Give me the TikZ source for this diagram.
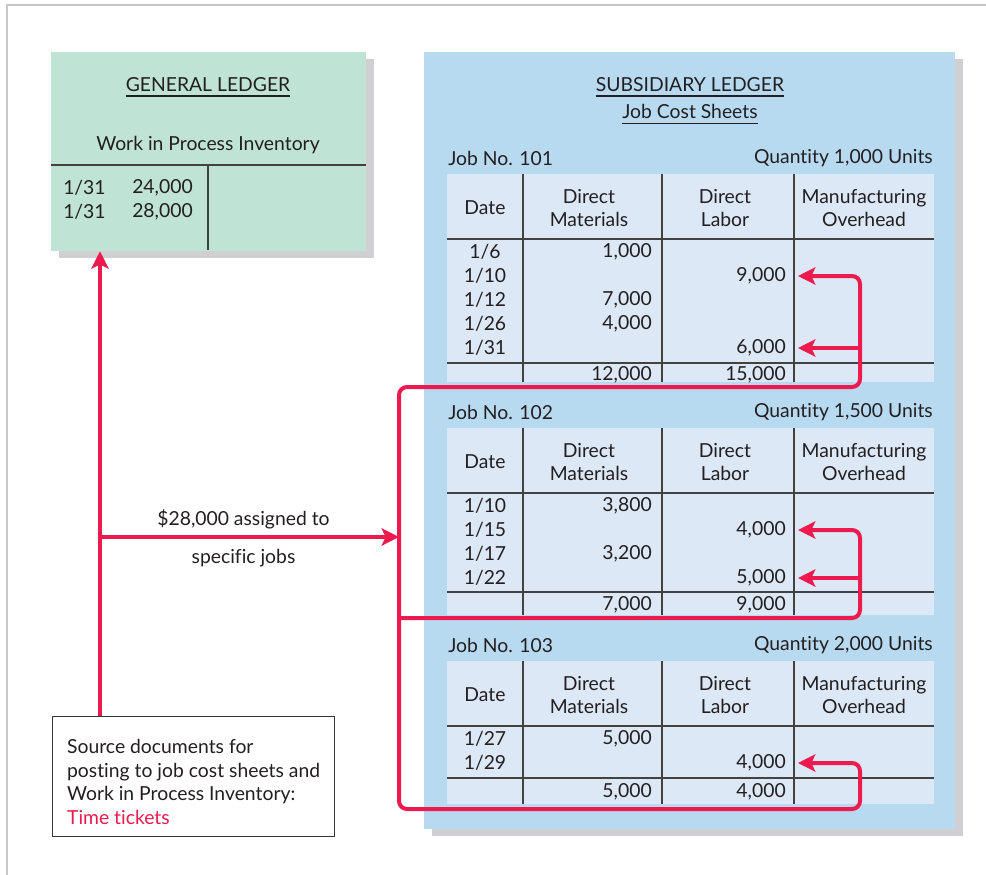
\documentclass[tikz,border=0pt]{standalone}
\usepackage{fontspec}
\setmainfont{Lato}[Ligatures=NoCommon]
\usetikzlibrary{positioning,arrows.meta,fit,shadows}

\definecolor{glgreen}{RGB}{191,227,212}
\definecolor{slblue}{RGB}{184,218,241}
\definecolor{cellblue}{RGB}{220,232,246}
\definecolor{shgray}{RGB}{208,208,210}
\definecolor{postred}{RGB}{236,26,78}
\definecolor{inkgray}{RGB}{35,31,32}
\definecolor{framegray}{RGB}{200,200,202}

% underlined title text
\newcommand{\ulbox}[1]{\leavevmode\setbox0\hbox{#1}\rlap{\vrule height -3pt depth 3.9pt width \wd0}\box0}

\begin{document}
\begin{tikzpicture}[x=0.75pt,y=-0.75pt,
    every node/.style={font=\fontsize{14.5}{17.6}\selectfont,text=inkgray,inner sep=0pt},
    ledger/.style={inner sep=0pt,drop shadow={shadow xshift=6pt,shadow yshift=-5.25pt,fill=shgray,opacity=1}},
    tline/.style={draw=inkgray!85,line width=1.1pt},
    amt/.style={anchor=east},
    hdr/.style={align=center},
    srcbox/.style={draw=inkgray!90,line width=0.9pt,fill=white,minimum width=211.5pt,
                   minimum height=90pt,align=left},
    redline/.style={draw=postred,line width=3pt,rounded corners=6pt},
    redarr/.style={redline,-{Stealth[length=13pt,width=13pt,inset=3pt]}}]
\useasboundingbox (0,0) rectangle (986,875);
\draw[framegray,line width=1.5pt] (986,5) -- (7,5) -- (7,875);

% ledgers
\node[ledger,fill=slblue,fit={(424,52) (955,829)}] (sl) {};
\node[ledger,fill=glgreen,fit={(51,52) (366,251)}] (gl) {};

% general ledger
\node (glhead) at (208,87) {\ulbox{GENERAL LEDGER}};
\node (glacct) at (208,145) {Work in Process Inventory};
\draw[tline] (51,165) -- (366,165) (208,165) -- (208,250);
\node[anchor=west] (gld1) at (63,188) {1/31}; \node[amt] (gla1) at (193,188) {24,000};
\node[anchor=west] (gld2) at (63,212) {1/31}; \node[amt] (gla2) at (193,212) {28,000};

% subsidiary ledger
\node (slhead) at (690,87) {\ulbox{SUBSIDIARY LEDGER}};
\node (sljobs) at (690,114) {\ulbox{Job Cost Sheets}};
\foreach \job/\top/\tot/\bot/\qty in {101/174/363/382/1{,}000,102/428/592/615/1{,}500,103/661/778/804/2{,}000}{
  \fill[cellblue] (447,\top) rectangle (934,\bot);
  \node[anchor=west] (job\job) at (448,\top-16) {Job No. \job};
  \node[anchor=east] (qty\job) at (933,\top-16) {Quantity \qty\ Units};
  \draw[tline] (447,\top+65) -- (934,\top+65) (447,\tot) -- (934,\tot);
  \foreach \cx in {523,662,794} \draw[tline] (\cx,\top) -- (\cx,\bot);
  \node (date\job) at (485,\top+34) {Date};
  \node[hdr] (dm\job) at (589,\top+34) {Direct\\Materials};
  \node[hdr] (dl\job) at (725,\top+34) {Direct\\Labor};
  \node[hdr] (moh\job) at (864,\top+34) {Manufacturing\\Overhead};
}
% job 101
\node (d1) at (485,252) {1/6};  \node[amt] (m1) at (652,252) {1,000};
\node (d2) at (485,276) {1/10}; \node[amt] (l2) at (786,276) {9,000};
\node (d3) at (485,300) {1/12}; \node[amt] (m3) at (652,300) {7,000};
\node (d4) at (485,324) {1/26}; \node[amt] (m4) at (652,324) {4,000};
\node (d5) at (485,348) {1/31}; \node[amt] (l5) at (786,348) {6,000};
\node[amt] (tm101) at (652,375) {12,000}; \node[amt] (tl101) at (786,375) {15,000};
% job 102
\node (d6) at (485,506) {1/10}; \node[amt] (m6) at (652,506) {3,800};
\node (d7) at (485,530) {1/15}; \node[amt] (l7) at (786,530) {4,000};
\node (d8) at (485,554) {1/17}; \node[amt] (m8) at (652,554) {3,200};
\node (d9) at (485,578) {1/22}; \node[amt] (l9) at (786,578) {5,000};
\node[amt] (tm102) at (652,605) {7,000}; \node[amt] (tl102) at (786,605) {9,000};
% job 103
\node (d10) at (485,739) {1/27}; \node[amt] (m10) at (652,739) {5,000};
\node (d11) at (485,763) {1/29}; \node[amt] (l11) at (786,763) {4,000};
\node[amt] (tm103) at (652,792) {5,000}; \node[amt] (tl103) at (786,792) {4,000};

% source documents
\node[srcbox,anchor=north west] (src) at (52,716)
  {\rule{0pt}{19pt}Source documents for\\posting to job cost sheets and\\Work in Process Inventory:\\\textcolor{postred}{Time tickets}};

% posting arrows
\coordinate (bus) at (399,387);
\coordinate (mid) at (399,618);
\coordinate (low) at (399,809);
\coordinate (rt) at (860,0);
\coordinate (split) at (100,537);
\draw[redarr] ([xshift=36pt]src.north west) -- ([xshift=36pt]src.north west |- gl.south);
\draw[redarr] (split) -- node[pos=0.48,above=4.5pt] (lbl1) {\$28,000 assigned to}
  node[pos=0.48,below=8pt] (lbl2) {specific jobs} (split -| bus);
\draw[redarr] (mid) -- (bus) -| (rt |- l2) -- ([xshift=9pt]l2.east);
\draw[redarr] (rt |- l5) -- ([xshift=9pt]l5.east);
\draw[redarr] (mid) -| (rt |- l7) -- ([xshift=9pt]l7.east);
\draw[redarr] (rt |- l9) -- ([xshift=9pt]l9.east);
\draw[redarr] (mid) -- (low) -| (rt |- l11) -- ([xshift=9pt]l11.east);
\end{tikzpicture}
\end{document}
